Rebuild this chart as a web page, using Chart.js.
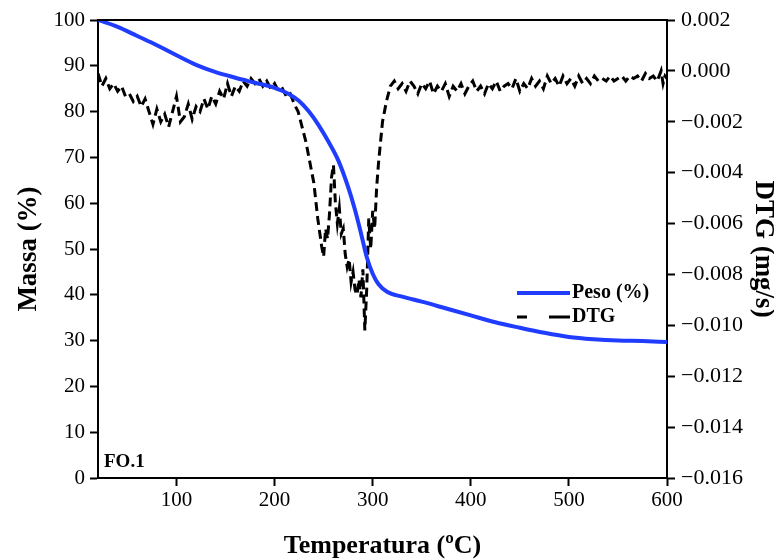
<!DOCTYPE html>
<html lang="pt">
<head>
    <meta charset="UTF-8">
    <title>TGA / DTG - FO.1</title>
    <script src="https://cdn.jsdelivr.net/npm/chart.js"></script>
    <style>
        body { margin: 0; background: #fff; }
    </style>
</head>
<body>
    <canvas id="tgaChart" width="774" height="560"></canvas>

    <script>
        // Curva de massa (Peso %)
        var pesoTemp = [20, 40, 60, 80, 100, 120, 140, 160, 180, 200, 215, 225, 235, 245, 255, 265, 275, 282, 288, 294,
                        300, 306, 315, 330, 350, 375, 400, 425, 450, 475, 500, 525, 550, 575, 600];
        var pesoVal = [100, 98.5, 96.5, 94.5, 92.3, 90.2, 88.6, 87.4, 86.3, 85.2, 83.8, 82.3, 80.0, 77.0, 73.4, 69.3, 63.5, 58.5, 53.5, 48.2,
                       44.6, 42.3, 40.6, 39.6, 38.5, 37.0, 35.5, 34.0, 32.8, 31.7, 30.8, 30.3, 30.0, 29.9, 29.7];

        // Curva DTG (mg/s)
        var dtgTemp = [20, 24, 28, 32, 36, 40, 44, 48, 52, 56, 60, 64, 68, 72, 76, 80, 84, 88, 92, 96,
                       100, 104, 108, 112, 116, 120, 124, 128, 132, 136, 140, 144, 148, 152, 156, 160, 164, 168, 172, 176,
                       180, 184, 188, 192, 196, 200, 204, 208, 212, 216, 220, 224, 228, 232, 236, 240, 244, 248, 250, 252,
                       254, 256, 258, 260, 262, 264, 266, 268, 270, 272, 274, 276, 278, 280, 282, 284, 286, 288, 290, 292,
                       294, 296, 298, 300, 302, 304, 306, 308, 310, 312, 314, 316, 318, 322, 326, 330, 334, 338, 342, 346,
                       350, 354, 358, 362, 366, 370, 374, 378, 382, 386, 390, 394, 398, 402, 406, 410, 414, 418, 422, 426,
                       430, 434, 438, 442, 446, 450, 454, 458, 462, 466, 470, 474, 478, 482, 486, 490, 494, 498, 502, 506,
                       510, 514, 518, 522, 526, 530, 534, 538, 542, 546, 550, 554, 558, 562, 566, 570, 574, 578, 582, 586,
                       590, 594, 596, 598, 600];
        var dtgVal = [-0.1, -0.6, -0.3, -0.7, -0.5, -0.8, -0.6, -1.0, -0.9, -1.2, -1.0, -1.4, -1.1, -1.6, -2.1, -1.5, -2.0, -1.7, -2.2, -1.6,
                      -1.0, -2.0, -1.8, -1.3, -1.9, -1.4, -1.6, -1.1, -1.5, -1.0, -1.3, -0.8, -1.1, -0.5, -1.0, -0.6, -0.8, -0.4, -0.6, -0.3,
                      -0.5, -0.3, -0.6, -0.4, -0.7, -0.5, -0.8, -0.7, -1.0, -0.9, -1.3, -1.6, -2.2, -2.8, -3.6, -4.4, -5.8, -6.9, -7.3, -6.2,
                      -6.6, -5.6, -4.2, -3.7, -5.2, -6.0, -5.4, -6.4, -6.2, -7.2, -7.7, -7.4, -8.3, -7.9, -8.6, -8.8, -8.2, -8.9, -7.8, -10.2,
                      -8.5, -5.8, -7.0, -5.5, -6.2, -4.6, -3.6, -2.8, -2.0, -1.6, -1.2, -0.9, -0.6, -0.4, -0.7, -0.5, -0.8, -0.4, -0.6, -0.9,
                      -0.5, -0.7, -0.4, -0.9, -0.6, -0.8, -0.5, -1.0, -0.6, -0.8, -0.5, -0.9, -0.6, -0.4, -0.8, -0.6, -0.9, -0.5, -0.7, -0.4,
                      -0.8, -0.6, -0.5, -0.7, -0.3, -0.8, -0.5, -0.7, -0.3, -0.6, -0.4, -0.7, -0.2, -0.5, -0.3, -0.6, -0.2, -0.5, -0.3, -0.6,
                      -0.2, -0.5, -0.3, -0.5, -0.2, -0.4, -0.3, -0.4, -0.2, -0.4, -0.3, -0.2, -0.4, -0.2, -0.3, -0.2, -0.4, -0.1, -0.3, -0.2,
                      -0.4, 0.0, -0.5, -0.2, -0.3]; // x 1e-3 mg/s

        var xTicks = [100, 200, 300, 400, 500, 600];
        var massaTicks = [0, 10, 20, 30, 40, 50, 60, 70, 80, 90, 100];
        var dtgTicks = [-0.016, -0.014, -0.012, -0.010, -0.008, -0.006, -0.004, -0.002, 0.000, 0.002];

        var serif = '"Liberation Serif", "DejaVu Serif", serif';

        function toPoints(xs, ys, k) {
            return xs.map(function (x, i) { return { x: x, y: ys[i] * k }; });
        }

        // Moldura, legenda e rótulo FO.1
        var extras = {
            id: 'extras',
            afterDatasetsDraw: function (chart) {
                var ctx = chart.ctx, a = chart.chartArea;
                ctx.save();
                ctx.strokeStyle = '#000';
                ctx.lineWidth = 2;
                ctx.beginPath();
                ctx.moveTo(a.left, a.top);
                ctx.lineTo(a.right, a.top);
                ctx.stroke();

                ctx.font = 'bold 19px ' + serif;
                ctx.fillStyle = '#000';
                ctx.textBaseline = 'middle';
                ctx.fillText('FO.1', a.left + 6, a.bottom - 16);

                // legenda
                var lx = 517, ly = 293;
                ctx.strokeStyle = '#1f3cff';
                ctx.lineWidth = 4;
                ctx.beginPath();
                ctx.moveTo(lx, ly); ctx.lineTo(lx + 53, ly);
                ctx.stroke();
                ctx.strokeStyle = '#000';
                ctx.lineWidth = 3;
                ctx.beginPath();
                ctx.moveTo(lx, ly + 24); ctx.lineTo(lx + 10, ly + 24);
                ctx.moveTo(lx + 32, ly + 24); ctx.lineTo(lx + 53, ly + 24);
                ctx.stroke();
                ctx.font = 'bold 20px ' + serif;
                ctx.fillText(chart.data.datasets[0].label, lx + 55, ly);
                ctx.fillText(chart.data.datasets[1].label, lx + 55, ly + 24);
                ctx.restore();
            }
        };

        var axisLine = { display: true, color: '#000', width: 2 };
        var tickMarks = { display: true, drawOnChartArea: false, drawTicks: true, tickLength: 8, tickWidth: 2, tickColor: '#000' };
        var tickFont = { family: serif, size: 21 };

        new Chart(document.getElementById('tgaChart'), {
            type: 'line',
            data: {
                datasets: [{
                    label: 'Peso (%)',
                    data: toPoints(pesoTemp, pesoVal, 1),
                    yAxisID: 'y',
                    borderColor: '#1f3cff',
                    borderWidth: 4,
                    pointRadius: 0,
                    cubicInterpolationMode: 'monotone',
                    fill: false
                }, {
                    label: 'DTG',
                    data: toPoints(dtgTemp, dtgVal, 0.001),
                    yAxisID: 'y1',
                    borderColor: '#000',
                    borderWidth: 3,
                    borderDash: [9, 5],
                    pointRadius: 0,
                    tension: 0,
                    fill: false
                }]
            },
            options: {
                responsive: false,
                animation: false,
                maintainAspectRatio: false,
                devicePixelRatio: 1,
                layout: { padding: { top: 20, right: 0, bottom: 0, left: 0 } },
                plugins: { legend: { display: false }, tooltip: { enabled: false } },
                scales: {
                    x: {
                        type: 'linear',
                        min: 20, max: 600,
                        afterBuildTicks: function (s) { s.ticks = xTicks.map(function (v) { return { value: v }; }); },
                        afterFit: function (s) { s.height = 82; },
                        border: axisLine,
                        grid: tickMarks,
                        ticks: { color: '#000', font: tickFont, padding: 2, maxRotation: 0 },
                        title: { display: true, text: 'Temperatura (ºC)', color: '#000', font: { family: serif, size: 26, weight: 'bold', lineHeight: 0.8 }, padding: { top: 0, bottom: 3 } }
                    },
                    y: {
                        position: 'left',
                        min: 0, max: 100,
                        afterBuildTicks: function (s) { s.ticks = massaTicks.map(function (v) { return { value: v }; }); },
                        afterFit: function (s) { s.width = 98; },
                        border: axisLine,
                        grid: tickMarks,
                        ticks: { color: '#000', font: tickFont, padding: 5 },
                        title: { display: true, text: 'Massa (%)', color: '#000', font: { family: serif, size: 27, weight: 'bold' }, padding: { top: 13, bottom: 0 } }
                    },
                    y1: {
                        position: 'right',
                        min: -0.016, max: 0.002,
                        afterBuildTicks: function (s) { s.ticks = dtgTicks.map(function (v) { return { value: v }; }); },
                        afterFit: function (s) { s.width = 107; },
                        border: axisLine,
                        grid: tickMarks,
                        ticks: {
                            color: '#000', font: { family: serif, size: 22 }, padding: 6,
                            callback: function (v) { return (Math.abs(v) < 1e-9 ? 0 : v).toFixed(3).replace('-', '\u2212'); }
                        },
                        title: { display: true, text: 'DTG (mg/s)', color: '#000', font: { family: serif, size: 27, weight: 'bold', lineHeight: 0.85 }, padding: 0 }
                    }
                }
            },
            plugins: [extras]
        });
    </script>
</body>
</html>
